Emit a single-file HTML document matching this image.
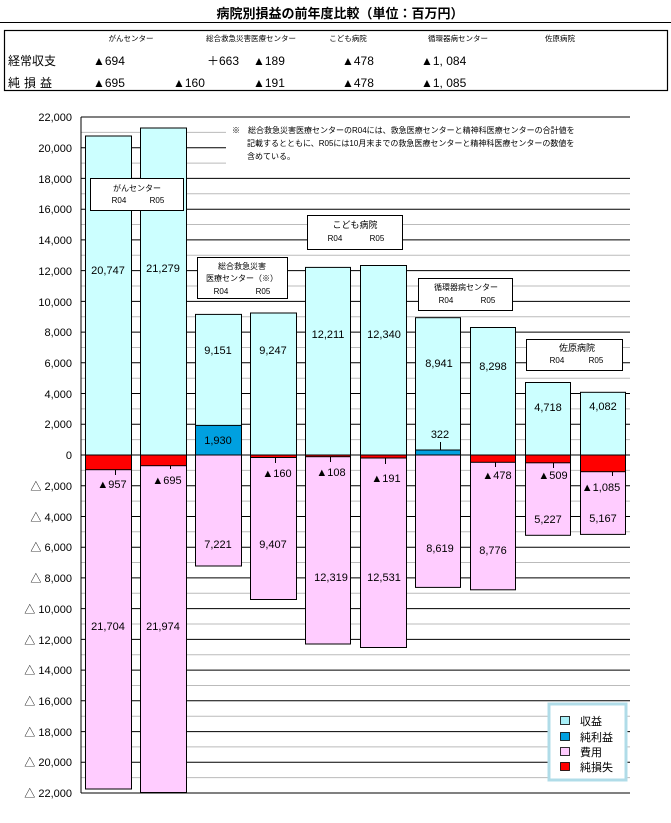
<!DOCTYPE html>
<html><head><meta charset="utf-8">
<style>
html,body{margin:0;padding:0;background:#fff;}
svg{display:block;font-family:"Liberation Sans","Noto Sans CJK JP",sans-serif;}
</style></head>
<body>
<svg width="671" height="823" viewBox="0 0 671 823" xmlns="http://www.w3.org/2000/svg">
<rect width="671" height="823" fill="#fff"/>
<!-- title -->
<text x="340" y="18" font-size="13" font-weight="bold" text-anchor="middle">病院別損益の前年度比較（単位：百万円）</text>
<line x1="0" y1="22.5" x2="671" y2="22.5" stroke="#000" stroke-width="1"/>
<!-- table -->
<rect x="4.5" y="30.5" width="663" height="60" fill="none" stroke="#000" stroke-width="1.2"/>
<g font-size="7.5" text-anchor="middle">
<text x="131" y="41">がんセンター</text>
<text x="251" y="41">総合救急災害医療センター</text>
<text x="348" y="41">こども病院</text>
<text x="458" y="41">循環器病センター</text>
<text x="560" y="41">佐原病院</text>
</g>
<g font-size="12">
<text x="8" y="65">経常収支</text>
<text x="8" y="87" letter-spacing="4">純損益</text>
<text x="93" y="65">▲694</text>
<text x="207" y="65">＋663</text>
<text x="253" y="65">▲189</text>
<text x="342" y="65">▲478</text>
<text x="421" y="65">▲1, 084</text>
<text x="93" y="87">▲695</text>
<text x="173" y="87">▲160</text>
<text x="253" y="87">▲191</text>
<text x="342" y="87">▲478</text>
<text x="421" y="87">▲1, 085</text>
</g>
<!-- gridlines -->
<path stroke="#bbb" stroke-width="1" fill="none" d="M81 439.6H630M81 408.9H630M81 378.2H630M81 347.5H630M81 316.7H630M81 286H630M81 255.3H630M81 224.5H630M81 193.8H630M81 163.1H630M81 132.4H630M81 470.4H630M81 501.1H630M81 531.8H630M81 562.5H630M81 593.3H630M81 624H630M81 654.7H630M81 685.5H630M81 716.2H630M81 746.9H630M81 777.6H630"/>
<path stroke="#000" stroke-width="1" fill="none" d="M81 424.3H630M81 393.5H630M81 362.8H630M81 332.1H630M81 301.4H630M81 270.6H630M81 239.9H630M81 209.2H630M81 178.4H630M81 147.7H630M81 117H630M81 455H630M81 485.7H630M81 516.5H630M81 547.2H630M81 577.9H630M81 608.6H630M81 639.4H630M81 670.1H630M81 700.8H630M81 731.6H630M81 762.3H630M81 793H630"/>
<line x1="81" y1="117" x2="81" y2="793" stroke="#000" stroke-width="1"/>
<!-- note background -->
<rect x="226" y="121" width="404" height="44" fill="#fff"/>
<g font-size="8">
<text x="232" y="133">※　総合救急災害医療センターのR04には、救急医療センターと精神科医療センターの合計値を</text>
<text x="247" y="146">記載するとともに、R05には10月末までの救急医療センターと精神科医療センターの数値を</text>
<text x="247" y="159">含めている。</text>
</g>
<!-- y axis labels -->
<g font-size="11" text-anchor="end">
<text x="72" y="121">22,000</text><text x="72" y="152">20,000</text><text x="72" y="183">18,000</text><text x="72" y="213">16,000</text><text x="72" y="244">14,000</text><text x="72" y="275">12,000</text><text x="72" y="306">10,000</text><text x="72" y="336">8,000</text><text x="72" y="367">6,000</text><text x="72" y="398">4,000</text><text x="72" y="428">2,000</text><text x="72" y="459">0</text>
<text x="72" y="490">△ 2,000</text><text x="72" y="521">△ 4,000</text><text x="72" y="551">△ 6,000</text><text x="72" y="582">△ 8,000</text><text x="72" y="613">△ 10,000</text><text x="72" y="644">△ 12,000</text><text x="72" y="674">△ 14,000</text><text x="72" y="705">△ 16,000</text><text x="72" y="736">△ 18,000</text><text x="72" y="766">△ 20,000</text><text x="72" y="797">△ 22,000</text>
</g>
<!-- bars -->
<g stroke="#000" stroke-width="1">
<!-- 1 -->
<rect x="85.5" y="136" width="46" height="319" fill="#ccffff"/>
<rect x="85.5" y="455" width="46" height="334" fill="#ffccff"/>
<rect x="85.5" y="455" width="46" height="14.7" fill="#ff0000"/>
<!-- 2 -->
<rect x="140.5" y="128" width="46" height="327" fill="#ccffff"/>
<rect x="140.5" y="455" width="46" height="337.5" fill="#ffccff"/>
<rect x="140.5" y="455" width="46" height="10.7" fill="#ff0000"/>
<!-- 3 -->
<rect x="195.5" y="314.4" width="46" height="140.6" fill="#ccffff"/>
<rect x="195.5" y="425.4" width="46" height="29.6" fill="#00a0e0"/>
<rect x="195.5" y="455" width="46" height="111" fill="#ffccff"/>
<!-- 4 -->
<rect x="250.5" y="313" width="46" height="142" fill="#ccffff"/>
<rect x="250.5" y="455" width="46" height="144.5" fill="#ffccff"/>
<rect x="250.5" y="455" width="46" height="2.5" fill="#ff0000"/>
<!-- 5 -->
<rect x="305.5" y="267.4" width="45" height="187.6" fill="#ccffff"/>
<rect x="305.5" y="455" width="45" height="189" fill="#ffccff"/>
<rect x="305.5" y="455" width="45" height="1.7" fill="#ff0000"/>
<!-- 6 -->
<rect x="360.5" y="265.5" width="46" height="189.5" fill="#ccffff"/>
<rect x="360.5" y="455" width="46" height="192.5" fill="#ffccff"/>
<rect x="360.5" y="455" width="46" height="3" fill="#ff0000"/>
<!-- 7 -->
<rect x="415.5" y="317.7" width="45" height="137.3" fill="#ccffff"/>
<rect x="415.5" y="450" width="45" height="5" fill="#00a0e0"/>
<rect x="415.5" y="455" width="45" height="132.4" fill="#ffccff"/>
<!-- 8 -->
<rect x="470.5" y="327.5" width="45" height="127.5" fill="#ccffff"/>
<rect x="470.5" y="455" width="45" height="134.8" fill="#ffccff"/>
<rect x="470.5" y="455" width="45" height="7.3" fill="#ff0000"/>
<!-- 9 -->
<rect x="525.5" y="382.5" width="45" height="72.5" fill="#ccffff"/>
<rect x="525.5" y="455" width="45" height="80.3" fill="#ffccff"/>
<rect x="525.5" y="455" width="45" height="7.8" fill="#ff0000"/>
<!-- 10 -->
<rect x="580.5" y="392.3" width="45" height="62.7" fill="#ccffff"/>
<rect x="580.5" y="455" width="45" height="79.4" fill="#ffccff"/>
<rect x="580.5" y="455" width="45" height="16.7" fill="#ff0000"/>
<!-- leader ticks -->
<path fill="none" d="M115.5 469.7V475M170.5 465.7V469M275.5 457.5V463M330.5 456.7V462M385.5 458V464M440.5 450V442M495.5 462.3V467M553.5 462.8V468M612.5 471.7V476"/>
</g>
<!-- bar labels -->
<g font-size="11" text-anchor="middle">
<text x="108" y="274">20,747</text><text x="163" y="272">21,279</text>
<text x="112" y="488">▲957</text><text x="167" y="484">▲695</text>
<text x="108" y="630">21,704</text><text x="163" y="630">21,974</text>
<text x="218" y="354">9,151</text><text x="218" y="444">1,930</text><text x="218" y="548">7,221</text>
<text x="273" y="354">9,247</text><text x="277" y="477">▲160</text><text x="273" y="548">9,407</text>
<text x="328" y="338">12,211</text><text x="331" y="476">▲108</text><text x="331" y="581">12,319</text>
<text x="384" y="338">12,340</text><text x="386" y="482">▲191</text><text x="384" y="581">12,531</text>
<text x="439" y="367">8,941</text><text x="440" y="438">322</text><text x="440" y="552">8,619</text>
<text x="493" y="370">8,298</text><text x="497" y="479">▲478</text><text x="493" y="554">8,776</text>
<text x="548" y="411">4,718</text><text x="553" y="479">▲509</text><text x="548" y="523">5,227</text>
<text x="603" y="410">4,082</text><text x="601" y="491">▲1,085</text><text x="603" y="522">5,167</text>
</g>
<!-- group label boxes -->
<g stroke="#000" stroke-width="1" fill="#fff">
<rect x="90.5" y="178.5" width="93" height="32"/>
<rect x="197.5" y="257.5" width="90" height="41"/>
<rect x="307.5" y="215.5" width="95" height="34"/>
<rect x="418.5" y="278.5" width="94" height="32"/>
<rect x="526.5" y="339.5" width="96" height="31"/>
</g>
<g font-size="8" text-anchor="middle">
<text x="137" y="191">がんセンター</text><text x="119" y="203">R04</text><text x="157" y="203">R05</text>
<text x="242" y="269">総合救急災害</text><text x="242" y="281">医療センター（※）</text><text x="221" y="294">R04</text><text x="263" y="294">R05</text>
<text x="355" y="228" font-size="9">こども病院</text><text x="335" y="241">R04</text><text x="377" y="241">R05</text>
<text x="466" y="290">循環器病センター</text><text x="446" y="303">R04</text><text x="488" y="303">R05</text>
<text x="577" y="351" font-size="9">佐原病院</text><text x="557" y="363">R04</text><text x="596" y="363">R05</text>
</g>
<!-- legend -->
<rect x="549" y="704" width="77" height="76" fill="#fff" stroke="#b0dce8" stroke-width="3"/>
<g stroke="#000" stroke-width="0.8">
<rect x="560.5" y="716.5" width="9" height="8" fill="#a8f0f8"/>
<rect x="560.5" y="732.5" width="9" height="8" fill="#00a0e0"/>
<rect x="560.5" y="747.5" width="9" height="8" fill="#ffccff"/>
<rect x="560.5" y="762.5" width="9" height="8" fill="#ff0000"/>
</g>
<g font-size="11">
<text x="580" y="725">収益</text>
<text x="580" y="741">純利益</text>
<text x="580" y="756">費用</text>
<text x="580" y="771">純損失</text>
</g>
</svg>
</body></html>
